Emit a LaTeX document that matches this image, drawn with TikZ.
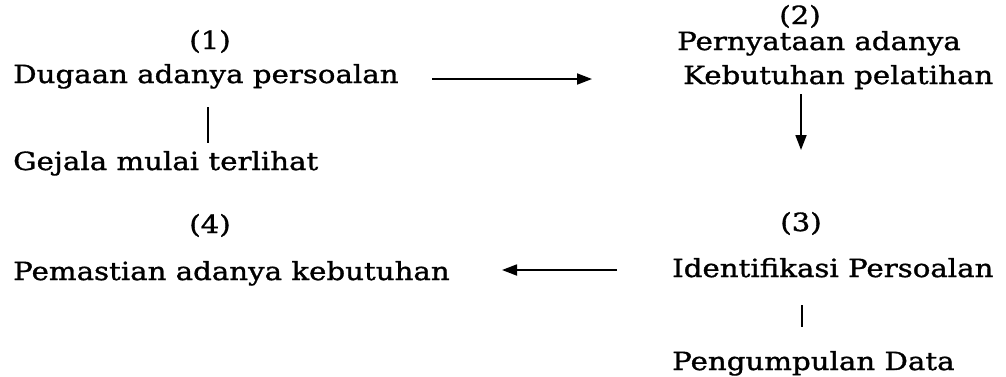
\documentclass[tikz,border=0pt]{standalone}
\usepackage{fontspec}
\setmainfont[FakeStretch=1.17, FakeBold=1.2]{DejaVu Serif}
\usetikzlibrary{arrows.meta}
\begin{document}
\begin{tikzpicture}[x=1pt,y=-1pt,
  txt/.style={inner sep=0pt, anchor=base west, font=\fontsize{25}{29}\selectfont},
  num/.style={inner sep=0pt, anchor=base, font=\fontsize{25}{29}\selectfont},
  flow/.style={line width=1.8pt, -{Triangle[length=15pt,width=11pt]}},
  bar/.style={line width=2.4pt}]
  \useasboundingbox (0,0) rectangle (1006,376);

  % left column
  \node[num] (n1) at (210,49) {(1)};
  \node[txt] (dugaan) at (13,83) {Dugaan adanya persoalan};
  \node[txt] (gejala) at (13,170) {Gejala mulai terlihat};
  \node[num] (n4) at (210,233) {(4)};
  \node[txt] (pemastian) at (13,280) {Pemastian adanya kebutuhan};

  % right column
  \node[num] (n2) at (800,24) {(2)};
  \node[txt] (pernyataan) at (677,50) {Pernyataan adanya};
  \node[txt] (kebutuhan) at (683,84) {Kebutuhan pelatihan};
  \node[num] (n3) at (801,231) {(3)};
  \node[txt] (identifikasi) at (672,277) {Identifikasi Persoalan};
  \node[txt] (pengumpulan) at (672,370) {Pengumpulan Data};

  % connector end points
  \coordinate (a1s) at (432,79);
  \coordinate (a1e) at (592,79);
  \coordinate (b1s) at (208,107);
  \coordinate (b1e) at (208,143);
  \coordinate (a2s) at (801,94);
  \coordinate (a2e) at (801,150);
  \coordinate (a3s) at (617,270);
  \coordinate (a3e) at (502,270);
  \coordinate (b2s) at (802,305);
  \coordinate (b2e) at (802,327);

  \draw[flow] (a1s) -- (a1e);
  \draw[bar] (b1s) -- (b1e);
  \draw[flow] (a2s) -- (a2e);
  \draw[flow] (a3s) -- (a3e);
  \draw[bar] (b2s) -- (b2e);
\end{tikzpicture}
\end{document}
